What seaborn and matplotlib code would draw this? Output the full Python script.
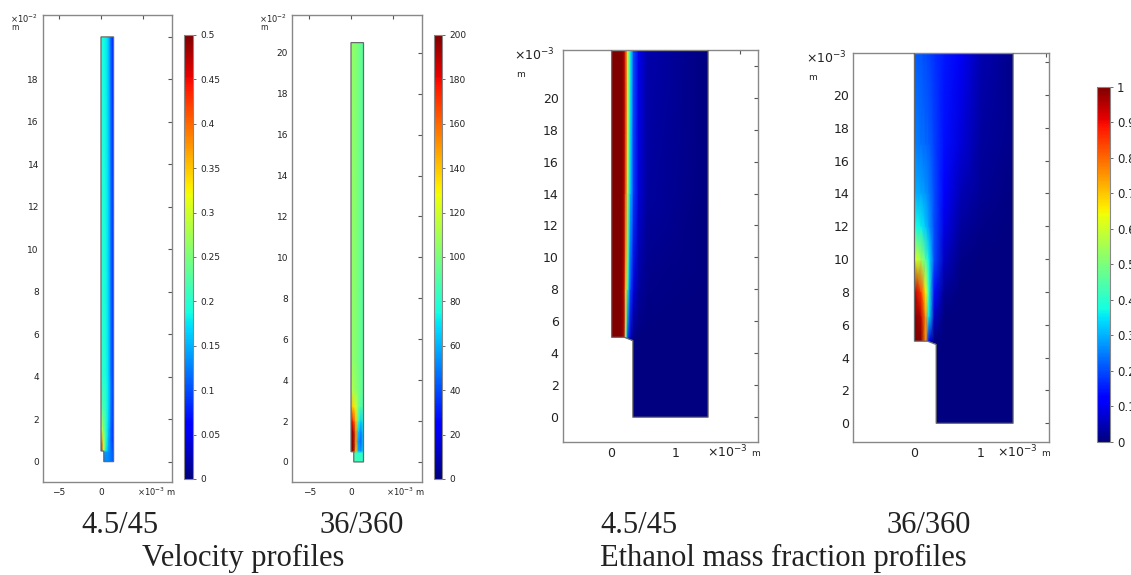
import numpy as np
import seaborn as sns
import matplotlib
import matplotlib.pyplot as plt
from matplotlib.patches import Polygon

# channel outline, x in 1e-3 m
outline_x = [0, 0, 0.2, 0.33, 0.33, 1.5, 1.5]
# outline heights: velocity plots in 1e-2 m, ethanol plots in 1e-3 m
outline_y_vel1 = [20, 0.5, 0.5, 0.48, 0, 0, 20]
outline_y_vel2 = [20.5, 0.5, 0.5, 0.48, 0, 0, 20.5]
outline_y_eth = [24, 5, 5, 4.8, 0, 0, 24]

# velocity 4.5/45 (m/s), read across the channel at several heights
vel1_x = [0, 0.3, 0.6, 0.9, 1.2, 1.5]
vel1_y = [0, 0.45, 0.55, 1.0, 1.5, 2.5, 4, 20]
vel1_v = [[0.12, 0.12, 0.13, 0.13, 0.12, 0.10],
          [0.14, 0.14, 0.14, 0.13, 0.12, 0.10],
          [0.48, 0.30, 0.18, 0.14, 0.12, 0.09],
          [0.40, 0.28, 0.20, 0.15, 0.11, 0.08],
          [0.31, 0.25, 0.20, 0.16, 0.11, 0.08],
          [0.23, 0.22, 0.20, 0.17, 0.12, 0.08],
          [0.20, 0.20, 0.19, 0.17, 0.12, 0.08],
          [0.19, 0.19, 0.18, 0.16, 0.11, 0.07]]

# velocity 36/360
vel2_x = [0, 0.3, 0.6, 0.9, 1.2, 1.5]
vel2_y = [0, 0.45, 0.55, 1.0, 1.5, 2.0, 2.7, 3.5, 5, 20.5]
vel2_v = [[85, 85, 85, 85, 85, 80],
          [85, 85, 85, 80, 80, 78],
          [200, 195, 140, 60, 55, 70],
          [200, 195, 150, 55, 45, 70],
          [200, 190, 150, 65, 50, 72],
          [185, 170, 140, 85, 65, 80],
          [145, 135, 120, 100, 88, 88],
          [115, 110, 105, 100, 95, 90],
          [105, 104, 102, 98, 94, 90],
          [105, 104, 102, 98, 94, 90]]

# ethanol mass fraction 4.5/45
eth1_x = [0, 0.15, 0.19, 0.22, 0.25, 0.29, 0.34, 0.42, 0.55, 1.5]
eth1_y = [0, 4.8, 5.0, 8, 14, 24]
eth1_w = [[0, 0, 0, 0, 0, 0, 0, 0, 0, 0],
          [0, 0, 0, 0, 0, 0, 0, 0, 0, 0],
          [1, 1, 0.95, 0.5, 0.2, 0.06, 0.01, 0, 0, 0],
          [1, 1, 0.95, 0.7, 0.4, 0.2, 0.08, 0.03, 0.01, 0],
          [1, 1, 0.97, 0.82, 0.55, 0.33, 0.18, 0.08, 0.03, 0],
          [1, 1, 0.97, 0.85, 0.6, 0.38, 0.2, 0.1, 0.04, 0]]

# ethanol mass fraction 36/360
eth2_x = [0, 0.1, 0.17, 0.22, 0.3, 0.45, 0.7, 1.0, 1.5]
eth2_y = [0, 4.8, 5.0, 6.5, 8, 10, 12, 14, 17, 24]
eth2_w = [[0, 0, 0, 0, 0, 0, 0, 0, 0],
          [0, 0, 0, 0, 0, 0, 0, 0, 0],
          [1.0, 1.0, 0.75, 0.10, 0, 0, 0, 0, 0],
          [1.0, 0.95, 0.75, 0.35, 0.06, 0, 0, 0, 0],
          [0.95, 0.85, 0.65, 0.40, 0.14, 0.02, 0, 0, 0],
          [0.62, 0.55, 0.45, 0.36, 0.20, 0.06, 0.01, 0, 0],
          [0.38, 0.36, 0.32, 0.28, 0.20, 0.09, 0.03, 0.01, 0],
          [0.30, 0.29, 0.27, 0.25, 0.20, 0.12, 0.05, 0.02, 0],
          [0.25, 0.24, 0.23, 0.22, 0.19, 0.14, 0.08, 0.03, 0.01],
          [0.21, 0.20, 0.19, 0.18, 0.17, 0.15, 0.11, 0.05, 0.01]]

vel1_ticks = [0, 0.05, 0.1, 0.15, 0.2, 0.25, 0.3, 0.35, 0.4, 0.45, 0.5]
vel2_ticks = [0, 20, 40, 60, 80, 100, 120, 140, 160, 180, 200]
eth_ticks = [0, 0.1, 0.2, 0.3, 0.4, 0.5, 0.6, 0.7, 0.8, 0.9, 1]

case_labels = ['4.5/45', '36/360', '4.5/45', '36/360']
group_labels = ['Velocity profiles', 'Ethanol mass fraction profiles']

sns.set_style("white")
plt.rcParams['font.family'] = ['DejaVu Sans']
jet = matplotlib.colormaps['jet']  # seaborn won't hand out jet

W, H = 1131, 575
fig = plt.figure(figsize=(W/100, H/100), dpi=100)

def box(l, t, r, b):
    return [l/W, 1-b/H, (r-l)/W, (b-t)/H]

def ftext(x, y, s, **kw):
    fig.text(x/W, 1-y/H, s, color='#222', **kw)

def field(ax, xs, ys, vals, oy, vmax):
    X, Y = np.meshgrid(xs, ys)
    edge = Polygon(np.column_stack([outline_x, oy]), closed=True, fill=False,
                   edgecolor='#6a6a6a', lw=0.9, zorder=3)
    ax.add_patch(edge)
    mesh = ax.pcolormesh(X, Y, np.array(vals), shading='gouraud', cmap=jet,
                         vmin=0, vmax=vmax, zorder=2)
    mesh.set_clip_path(edge)
    return mesh

def style(ax, xlim, ylim, xticks, xlabels, yticks, ylabels, fs):
    ax.set_xlim(xlim)
    ax.set_ylim(ylim)
    ax.set_xticks(xticks)
    ax.set_xticklabels(xlabels)
    ax.set_yticks(yticks)
    ax.set_yticklabels(ylabels)
    ax.tick_params(direction='in', top=True, right=True, length=3, width=0.8,
                   color='#555', labelsize=fs, labelcolor='#222', pad=3)
    ax.tick_params(axis='x', pad=4)
    for s in ax.spines.values():
        s.set_color('#888')
        s.set_linewidth(1)

def cbar(mesh, rect, ticks, fs):
    cax = fig.add_axes(rect)
    cb = fig.colorbar(mesh, cax=cax, ticks=ticks)
    cb.ax.set_yticklabels([f'{t:g}' for t in ticks])
    cb.outline.set_edgecolor('#888')
    cb.ax.tick_params(length=2, width=0.6, color='#555', labelsize=fs, labelcolor='#222', pad=3)

# velocity panels
ax1 = fig.add_axes(box(43, 15, 172, 482))
m1 = field(ax1, vel1_x, vel1_y, vel1_v, outline_y_vel1, 0.5)
style(ax1, (-6.9, 8.45), (-0.96, 21.03), [-5, 0, 5], ['\u22125', '0', ''],
      range(0, 21, 2), [str(v) for v in range(0, 19, 2)] + [''], 6.5)
cbar(m1, box(184.3, 35, 193.3, 479), vel1_ticks, 6.5)

ax2 = fig.add_axes(box(292.3, 15, 421.7, 482))
m2 = field(ax2, vel2_x, vel2_y, vel2_v, outline_y_vel2, 200)
style(ax2, (-7.04, 8.48), (-0.98, 21.85), [-5, 0, 5], ['\u22125', '0', ''],
      range(0, 21, 2), [str(v) for v in range(0, 21, 2)], 6.5)
cbar(m2, box(434.3, 35, 442.3, 479), vel2_ticks, 6.5)

# ethanol panels
ax3 = fig.add_axes(box(562.7, 50, 758.3, 441.7))
m3 = field(ax3, eth1_x, eth1_y, eth1_w, outline_y_eth, 1)
style(ax3, (-0.76, 2.28), (-1.53, 22.98), [0, 1, 2], ['0', '1', ''],
      range(0, 23, 2), [str(v) for v in range(0, 21, 2)] + [''], 9)

ax4 = fig.add_axes(box(853.3, 52.7, 1049.3, 441.7))
m4 = field(ax4, eth2_x, eth2_y, eth2_w, outline_y_eth, 1)
style(ax4, (-0.93, 2.05), (-1.12, 22.57), [0, 1, 2], ['0', '1', ''],
      range(0, 23, 2), [str(v) for v in range(0, 21, 2)] + [''], 9)
cbar(m4, box(1096.7, 86.7, 1110, 441.7), eth_ticks, 8.5)

# axis multipliers, comsol style
ftext(10, 19, '\u00d710$^{-2}$', fontsize=6, va='center')
ftext(11, 28, 'm', fontsize=5.5, va='center')
ftext(137, 492, '\u00d710$^{-3}$ m', fontsize=6, va='center')
ftext(259, 19, '\u00d710$^{-2}$', fontsize=6, va='center')
ftext(260, 28, 'm', fontsize=5.5, va='center')
ftext(386, 492, '\u00d710$^{-3}$ m', fontsize=6, va='center')
ftext(514, 55, '\u00d710$^{-3}$', fontsize=9, va='center')
ftext(516, 74, 'm', fontsize=6.5, va='center')
ftext(707, 452, '\u00d710$^{-3}$', fontsize=9, va='center')
ftext(751, 454, 'm', fontsize=6.5, va='center')
ftext(806, 58, '\u00d710$^{-3}$', fontsize=9, va='center')
ftext(808, 77, 'm', fontsize=6.5, va='center')
ftext(997, 452, '\u00d710$^{-3}$', fontsize=9, va='center')
ftext(1041, 454, 'm', fontsize=6.5, va='center')

# captions under the panels
for x, s in zip([120, 362, 639, 929], case_labels):
    ftext(x, 533, s, fontsize=22, family='Liberation Serif', ha='center', va='baseline')
for x, s in zip([243, 783], group_labels):
    ftext(x, 566, s, fontsize=22, family='Liberation Serif', ha='center', va='baseline')

plt.savefig('out.png', dpi=100)
